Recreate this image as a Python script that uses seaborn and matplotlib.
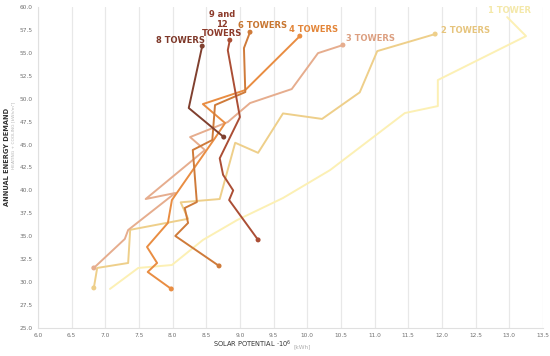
import numpy as np
import pandas as pd
import matplotlib
matplotlib.use("Agg")
import matplotlib.pyplot as plt
import seaborn as sns

# Series (x = solar potential 10^6 kWh, y = demand)
one_x = [7.07, 7.49, 7.99, 8.45, 8.96, 9.64, 10.34, 11.45, 11.94, 11.94, 13.25, 12.97]
one_y = [29.25, 31.54, 31.86, 34.59, 36.77, 39.17, 42.22, 48.44, 49.2, 52.04, 56.84, 58.91]

two_x = [6.83, 6.88, 7.34, 7.37, 8.23, 8.12, 8.70, 8.93, 9.27, 9.64, 10.22, 10.78, 11.04, 11.90]
two_y = [29.36, 31.54, 32.08, 35.7, 36.9, 38.7, 39.06, 45.2, 44.1, 48.4, 47.8, 50.7, 55.2, 57.06]

three_x = [6.83, 7.29, 7.34, 8.04, 7.60, 8.48, 8.26, 8.82, 9.15, 9.77, 10.16, 10.53]
three_y = [31.54, 34.70, 35.68, 39.72, 39.06, 44.41, 45.82, 47.46, 49.53, 51.06, 54.98, 55.86]

four_x = [7.98, 7.63, 7.77, 7.62, 7.93, 7.99, 8.63, 8.78, 8.45, 9.08, 9.89]
four_y = [29.25, 31.1, 32.08, 33.83, 36.45, 38.95, 45.71, 47.35, 49.42, 50.95, 56.84]

six_x = [8.69, 8.04, 8.23, 8.18, 8.36, 8.30, 8.59, 8.63, 9.08, 9.06, 9.15]
six_y = [31.76, 35.03, 36.45, 38.08, 38.73, 44.41, 45.5, 49.31, 50.73, 55.53, 57.27]

eight_x = [8.76, 8.24, 8.44]
eight_y = [45.82, 48.99, 55.75]

nine_x = [9.27, 8.84, 8.90, 8.75, 8.70, 9.00, 8.82, 8.85]
nine_y = [34.6, 38.95, 40.0, 41.7, 43.5, 48.0, 55.3, 56.4]

names = ["1 TOWER", "2 TOWERS", "3 TOWERS", "4 TOWERS", "6 TOWERS", "8 TOWERS", "9 and 12 TOWERS"]
colors = ["#fcf0b4", "#eecf8a", "#e6ad8e", "#e98d42", "#cf7b3a", "#80402f", "#ab4e35"]

series = [(one_x, one_y), (two_x, two_y), (three_x, three_y), (four_x, four_y),
          (six_x, six_y), (eight_x, eight_y), (nine_x, nine_y)]

rows = []
for name, (xs, ys) in zip(names, series):
    for i, (a, b) in enumerate(zip(xs, ys)):
        rows.append({"series": name, "order": i, "solar": a, "demand": b})
df = pd.DataFrame(rows)
ends = df.groupby("series", sort=False).apply(lambda g: g.iloc[[0, -1]]).reset_index(drop=True)
ends = ends[ends["series"] != "1 TOWER"]

sns.set_style("white")
plt.rcParams["font.family"] = ["DejaVu Sans"]

fig = plt.figure(figsize=(5.5, 3.56), dpi=100)
ax = fig.add_axes([0.069, 0.079, 0.918, 0.901])

palette = dict(zip(names, colors))
sns.lineplot(data=df, x="solar", y="demand", hue="series", units="series", estimator=None,
             sort=False, palette=palette, linewidth=1.4, legend=False, ax=ax)
sns.scatterplot(data=ends, x="solar", y="demand", hue="series", palette=palette,
                s=13, linewidth=0, legend=False, ax=ax, zorder=5)

ax.set_xlim(6.0, 13.5)
ax.set_ylim(25.0, 60.0)
ax.set_xticks(np.arange(6.0, 13.51, 0.5))
ax.set_yticks(np.arange(25.0, 60.01, 2.5))
ax.set_xticklabels([f"{v:.1f}" for v in np.arange(6.0, 13.51, 0.5)])
ax.set_yticklabels([f"{v:.1f}" for v in np.arange(25.0, 60.01, 2.5)])
ax.tick_params(axis="both", labelsize=4.2, colors="#707070", length=0, pad=4)
ax.grid(axis="x", color="#e8e8e8", linewidth=0.9)
ax.grid(axis="y", visible=False)
for side in ["top", "right"]:
    ax.spines[side].set_visible(False)
for side in ["left", "bottom"]:
    ax.spines[side].set_color("#e0e0e0")
    ax.spines[side].set_linewidth(0.8)
ax.set_xlabel("")
ax.set_ylabel("")

# axis titles
fig.text(0.53, 0.018, "SOLAR POTENTIAL \u00b710$^6$", ha="right", va="bottom",
         fontsize=4.8, color="#333333")
fig.text(0.533, 0.018, "[kWh]", ha="left", va="bottom", fontsize=4.2, color="#b0b0b0")
fig.text(0.012, 0.56, "ANNUAL ENERGY DEMAND", rotation=90, ha="center", va="center",
         fontsize=4.8, color="#333333", fontweight="bold")
fig.text(0.024, 0.62, "HEATING + COOLING [kWh/m\u00b2]", rotation=90, ha="center", va="center",
         fontsize=3.2, color="#b5b5b5")

# series labels
lab = dict(fontsize=6.0, fontweight="semibold")
ax.text(13.01, 59.6, "1 TOWER", color="#f4e8a8", ha="center", va="center", **lab)
ax.text(11.98, 57.4, "2 TOWERS", color="#e6c47c", ha="left", va="center", **lab)
ax.text(10.57, 56.6, "3 TOWERS", color="#dc9f80", ha="left", va="center", **lab)
ax.text(10.1, 57.6, "4 TOWERS", color="#e38538", ha="center", va="center", **lab)
ax.text(9.34, 58.0, "6 TOWERS", color="#c7752f", ha="center", va="center", **lab)
ax.text(8.73, 58.15, "9 and\n12\nTOWERS", color="#8c3a2a", ha="center", va="center",
        linespacing=1.05, **lab)
ax.text(8.11, 56.4, "8 TOWERS", color="#7e3829", ha="center", va="center", **lab)

fig.savefig("out.png", dpi=100)
